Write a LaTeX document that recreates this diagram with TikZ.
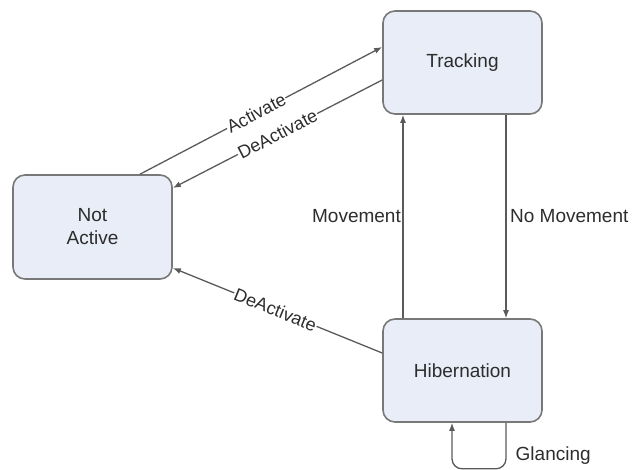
\documentclass[tikz,border=0pt]{standalone}
\usepackage{fontspec}
\setmainfont{Liberation Sans}
\usetikzlibrary{arrows.meta}
\definecolor{boxfill}{RGB}{232,237,247}
\definecolor{boxline}{RGB}{120,120,120}
\definecolor{wire}{RGB}{90,90,90}
\definecolor{txt}{RGB}{45,45,45}
\tikzset{
  state/.style={draw=boxline, line width=1.6pt, fill=boxfill, rounded corners=12pt,
    minimum width=159pt, minimum height=103pt, align=center, text=txt,
    font=\fontsize{19}{23}\selectfont},
  conn/.style={draw=wire, line width=1.3pt, -{Latex[length=8pt,width=6pt]}},
  lbl/.style={text=txt, font=\fontsize{19}{23}\selectfont, inner sep=1.5pt},
  slbl/.style={text=txt, font=\fontsize{18}{20}\selectfont, inner sep=0.8pt, sloped, fill=white}
}
\begin{document}
\begin{tikzpicture}[x=1pt,y=-1pt]
\useasboundingbox (0,0) rectangle (633,470);
\node[state] (tr) at (462.5,62.5) {Tracking};
\node[state, minimum height=104pt] (na) at (92.5,227) {Not\\Active};
\node[state] (hb) at (462.5,370.5) {Hibernation};
\coordinate (actS) at ([xshift=47.5pt]na.north);
\coordinate (actE) at ([yshift=15.5pt]tr.west);
\coordinate (deS) at ([yshift=-17.5pt]tr.west);
\coordinate (deE) at ([yshift=39pt]na.east);
\coordinate (de2S) at ([yshift=17.5pt]hb.west);
\coordinate (de2E) at ([yshift=-41pt]na.east);
\coordinate (mvS) at ([xshift=-59.5pt]hb.north);
\coordinate (mvE) at ([xshift=-59.5pt]tr.south);
\coordinate (nmS) at ([xshift=43.5pt]tr.south);
\coordinate (nmE) at ([xshift=43.5pt]hb.north);
\coordinate (glS) at ([xshift=43.5pt]hb.south);
\coordinate (glE) at ([xshift=-10.5pt]hb.south);
\draw[conn] (actS) -- node[slbl, pos=0.48] {Activate} (actE);
\draw[conn] (deS) -- node[slbl, pos=0.5] {DeActivate} (deE);
\draw[conn] (de2S) -- node[slbl, pos=0.51] {DeActivate} (de2E);
\draw[conn] (mvS) -- node[lbl, left] {Movement} (mvE);
\draw[conn] (nmS) -- node[lbl, right, xshift=2pt] {No Movement} (nmE);
\draw[conn, rounded corners=10pt] (glS) -- ++(0,46) -| (glE);
\node[lbl, anchor=west] (gl) at ([xshift=8pt, yshift=-33pt]glS) {Glancing};
\end{tikzpicture}
\end{document}
